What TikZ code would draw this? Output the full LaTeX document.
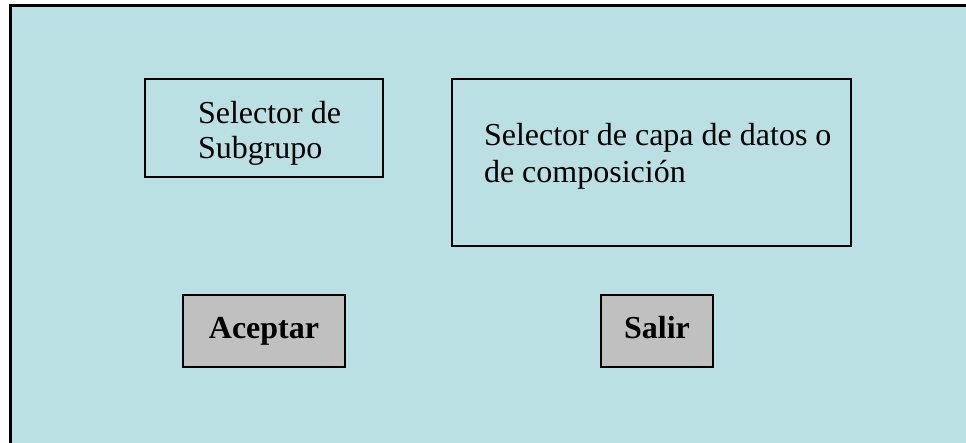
\documentclass[tikz,border=0pt]{standalone}
\usepackage{fontspec}
\setmainfont{Liberation Serif}
\definecolor{fondo}{RGB}{186,224,227}
\definecolor{boton}{RGB}{192,192,192}
\begin{document}
\begin{tikzpicture}[x=1pt,y=-1pt,line width=2pt,
    caja/.style={rectangle,draw,inner sep=0pt},
    texto/.style={anchor=base west,inner sep=0pt,font=\fontsize{32}{36}\selectfont},
    boton node/.style={rectangle,draw,fill=boton,inner sep=0pt,minimum height=72pt,text height=21pt,text depth=7pt,font=\fontsize{32}{36}\selectfont\bfseries}]
                \useasboundingbox (0,0) rectangle (966,442);
                \fill[fondo] (10,5) rectangle (980,460);
                \draw[line width=3pt] (980,5) -- (10,5) -- (10,460);

                \node[caja,minimum width=238pt,minimum height=98pt] at (264,128) (sub) {};
                \node[caja,minimum width=399pt,minimum height=167pt] at (651.5,162.5) (capa) {};
                \node[texto] at (197,123) (subA) {Selector de};
                \node[texto] at (197,158) (subB) {Subgrupo};
                \node[texto] at (483,145) (capaA) {Selector de capa de datos o};
                \node[texto] at (483,182) (capaB) {de composición};

                \node[boton node,minimum width=162pt] at (264,331) (aceptar) {Aceptar};
                \node[boton node,minimum width=112pt] at (657,331) (salir) {Salir};
            \end{tikzpicture}
\end{document}
